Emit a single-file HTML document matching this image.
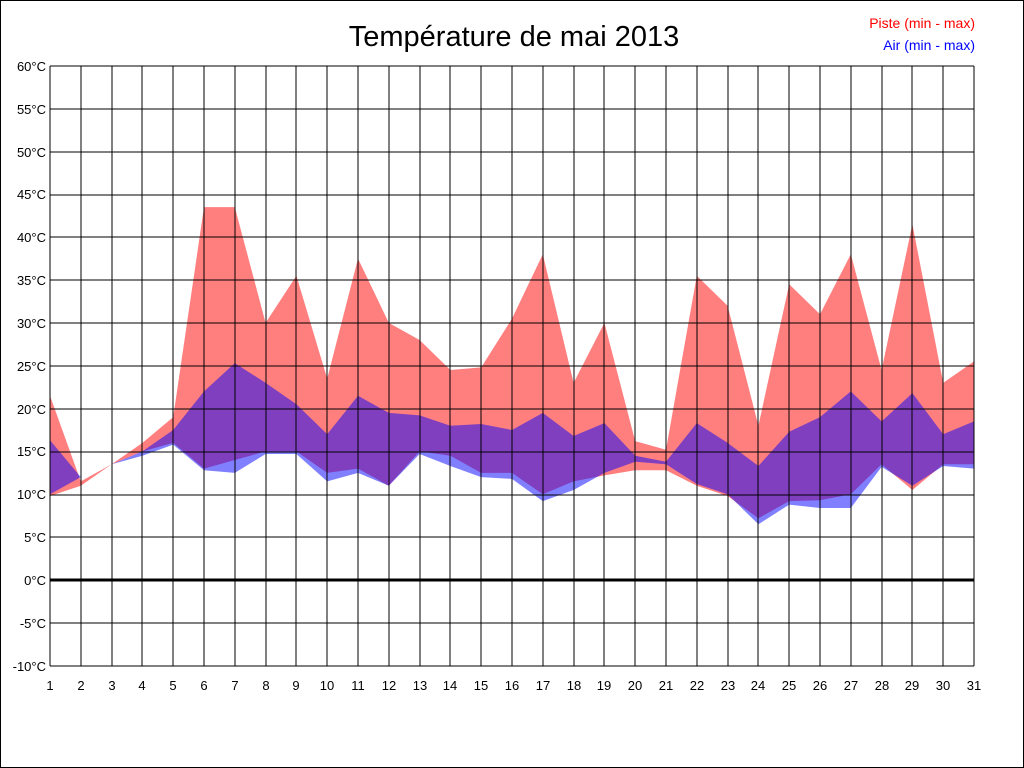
<!DOCTYPE html>
<html><head><meta charset="utf-8"><style>
html,body{margin:0;padding:0;background:#fff}
svg{display:block}
text{font-family:"Liberation Sans",Arial,sans-serif}
</style></head><body>
<svg width="1024" height="768" viewBox="0 0 1024 768" xmlns="http://www.w3.org/2000/svg">
<rect x="0.5" y="0.5" width="1023" height="767" fill="#fff" stroke="#000"/>
<text x="514" y="46" font-size="29" text-anchor="middle">Température de mai 2013</text>
<text x="975" y="28" font-size="14" text-anchor="end" fill="#f00">Piste (min - max)</text>
<text x="975" y="50" font-size="14" text-anchor="end" fill="#00f">Air (min - max)</text>
<g transform="translate(0,580) scale(1,-8.5714)">
<polygon fill="#ff0000" fill-opacity="0.5" points="50,21.5 80.8,11.5 111.6,13.5 142.4,16 173.2,19 204,43.5 234.8,43.5 265.6,30 296.4,35.5 327.2,23.5 358,37.5 388.8,30 419.6,28 450.4,24.5 481.2,24.8 512,30.5 542.8,38 573.6,23 604.4,30 635.2,16.2 666,15.2 696.8,35.5 727.6,32 758.4,18 789.2,34.5 820,31 850.8,38 881.6,24.5 912.4,41.5 943.2,23 974,25.5 974,13.5 943.2,13.5 912.4,10.5 881.6,13.5 850.8,10 820,9.3 789.2,9.2 758.4,7.2 727.6,9.8 696.8,11 666,12.8 635.2,12.8 604.4,12.2 573.6,11.5 542.8,10 512,12.5 481.2,12.5 450.4,14.5 419.6,15 388.8,11 358,13 327.2,12.5 296.4,15 265.6,15 234.8,14 204,13 173.2,16 142.4,15 111.6,13.5 80.8,11 50,9.8"/>
<polygon fill="#0000ff" fill-opacity="0.5" points="50,16.3 80.8,12 111.6,13.5 142.4,15 173.2,17.5 204,22 234.8,25.3 265.6,23 296.4,20.5 327.2,17 358,21.5 388.8,19.5 419.6,19.2 450.4,18 481.2,18.2 512,17.5 542.8,19.5 573.6,16.8 604.4,18.3 635.2,14.5 666,13.8 696.8,18.3 727.6,16 758.4,13.3 789.2,17.3 820,19 850.8,22 881.6,18.5 912.4,21.8 943.2,17 974,18.5 974,13 943.2,13.3 912.4,11 881.6,13.2 850.8,8.4 820,8.4 789.2,8.8 758.4,6.5 727.6,10 696.8,11.2 666,13.5 635.2,13.8 604.4,12.5 573.6,10.5 542.8,9.2 512,11.8 481.2,12 450.4,13.3 419.6,14.7 388.8,11 358,12.5 327.2,11.5 296.4,14.7 265.6,14.7 234.8,12.5 204,12.8 173.2,15.8 142.4,14.5 111.6,13.5 80.8,12 50,10"/>
</g>
<g stroke="#000" stroke-width="1" shape-rendering="crispEdges">
<line x1="50" y1="66" x2="974" y2="66"/><line x1="50" y1="109" x2="974" y2="109"/><line x1="50" y1="152" x2="974" y2="152"/><line x1="50" y1="195" x2="974" y2="195"/><line x1="50" y1="237" x2="974" y2="237"/><line x1="50" y1="280" x2="974" y2="280"/><line x1="50" y1="323" x2="974" y2="323"/><line x1="50" y1="366" x2="974" y2="366"/><line x1="50" y1="409" x2="974" y2="409"/><line x1="50" y1="452" x2="974" y2="452"/><line x1="50" y1="495" x2="974" y2="495"/><line x1="50" y1="537" x2="974" y2="537"/><line x1="50" y1="623" x2="974" y2="623"/><line x1="50" y1="666" x2="974" y2="666"/>
<line x1="50" y1="66" x2="50" y2="666"/><line x1="81" y1="66" x2="81" y2="666"/><line x1="112" y1="66" x2="112" y2="666"/><line x1="142" y1="66" x2="142" y2="666"/><line x1="173" y1="66" x2="173" y2="666"/><line x1="204" y1="66" x2="204" y2="666"/><line x1="235" y1="66" x2="235" y2="666"/><line x1="266" y1="66" x2="266" y2="666"/><line x1="296" y1="66" x2="296" y2="666"/><line x1="327" y1="66" x2="327" y2="666"/><line x1="358" y1="66" x2="358" y2="666"/><line x1="389" y1="66" x2="389" y2="666"/><line x1="420" y1="66" x2="420" y2="666"/><line x1="450" y1="66" x2="450" y2="666"/><line x1="481" y1="66" x2="481" y2="666"/><line x1="512" y1="66" x2="512" y2="666"/><line x1="543" y1="66" x2="543" y2="666"/><line x1="574" y1="66" x2="574" y2="666"/><line x1="604" y1="66" x2="604" y2="666"/><line x1="635" y1="66" x2="635" y2="666"/><line x1="666" y1="66" x2="666" y2="666"/><line x1="697" y1="66" x2="697" y2="666"/><line x1="728" y1="66" x2="728" y2="666"/><line x1="758" y1="66" x2="758" y2="666"/><line x1="789" y1="66" x2="789" y2="666"/><line x1="820" y1="66" x2="820" y2="666"/><line x1="851" y1="66" x2="851" y2="666"/><line x1="882" y1="66" x2="882" y2="666"/><line x1="912" y1="66" x2="912" y2="666"/><line x1="943" y1="66" x2="943" y2="666"/><line x1="974" y1="66" x2="974" y2="666"/>
</g>
<line x1="50" y1="580" x2="974" y2="580" stroke="#000" stroke-width="3"/>
<g font-size="13" text-anchor="end">
<text x="46" y="71">60°C</text><text x="46" y="114">55°C</text><text x="46" y="157">50°C</text><text x="46" y="199">45°C</text><text x="46" y="242">40°C</text><text x="46" y="285">35°C</text><text x="46" y="328">30°C</text><text x="46" y="371">25°C</text><text x="46" y="414">20°C</text><text x="46" y="456">15°C</text><text x="46" y="499">10°C</text><text x="46" y="542">5°C</text><text x="46" y="585">0°C</text><text x="46" y="628">-5°C</text><text x="46" y="671">-10°C</text>
</g>
<g font-size="13" text-anchor="middle">
<text x="50" y="690">1</text><text x="81" y="690">2</text><text x="112" y="690">3</text><text x="142" y="690">4</text><text x="173" y="690">5</text><text x="204" y="690">6</text><text x="235" y="690">7</text><text x="266" y="690">8</text><text x="296" y="690">9</text><text x="327" y="690">10</text><text x="358" y="690">11</text><text x="389" y="690">12</text><text x="420" y="690">13</text><text x="450" y="690">14</text><text x="481" y="690">15</text><text x="512" y="690">16</text><text x="543" y="690">17</text><text x="574" y="690">18</text><text x="604" y="690">19</text><text x="635" y="690">20</text><text x="666" y="690">21</text><text x="697" y="690">22</text><text x="728" y="690">23</text><text x="758" y="690">24</text><text x="789" y="690">25</text><text x="820" y="690">26</text><text x="851" y="690">27</text><text x="882" y="690">28</text><text x="912" y="690">29</text><text x="943" y="690">30</text><text x="974" y="690">31</text>
</g>
</svg>
</body></html>
